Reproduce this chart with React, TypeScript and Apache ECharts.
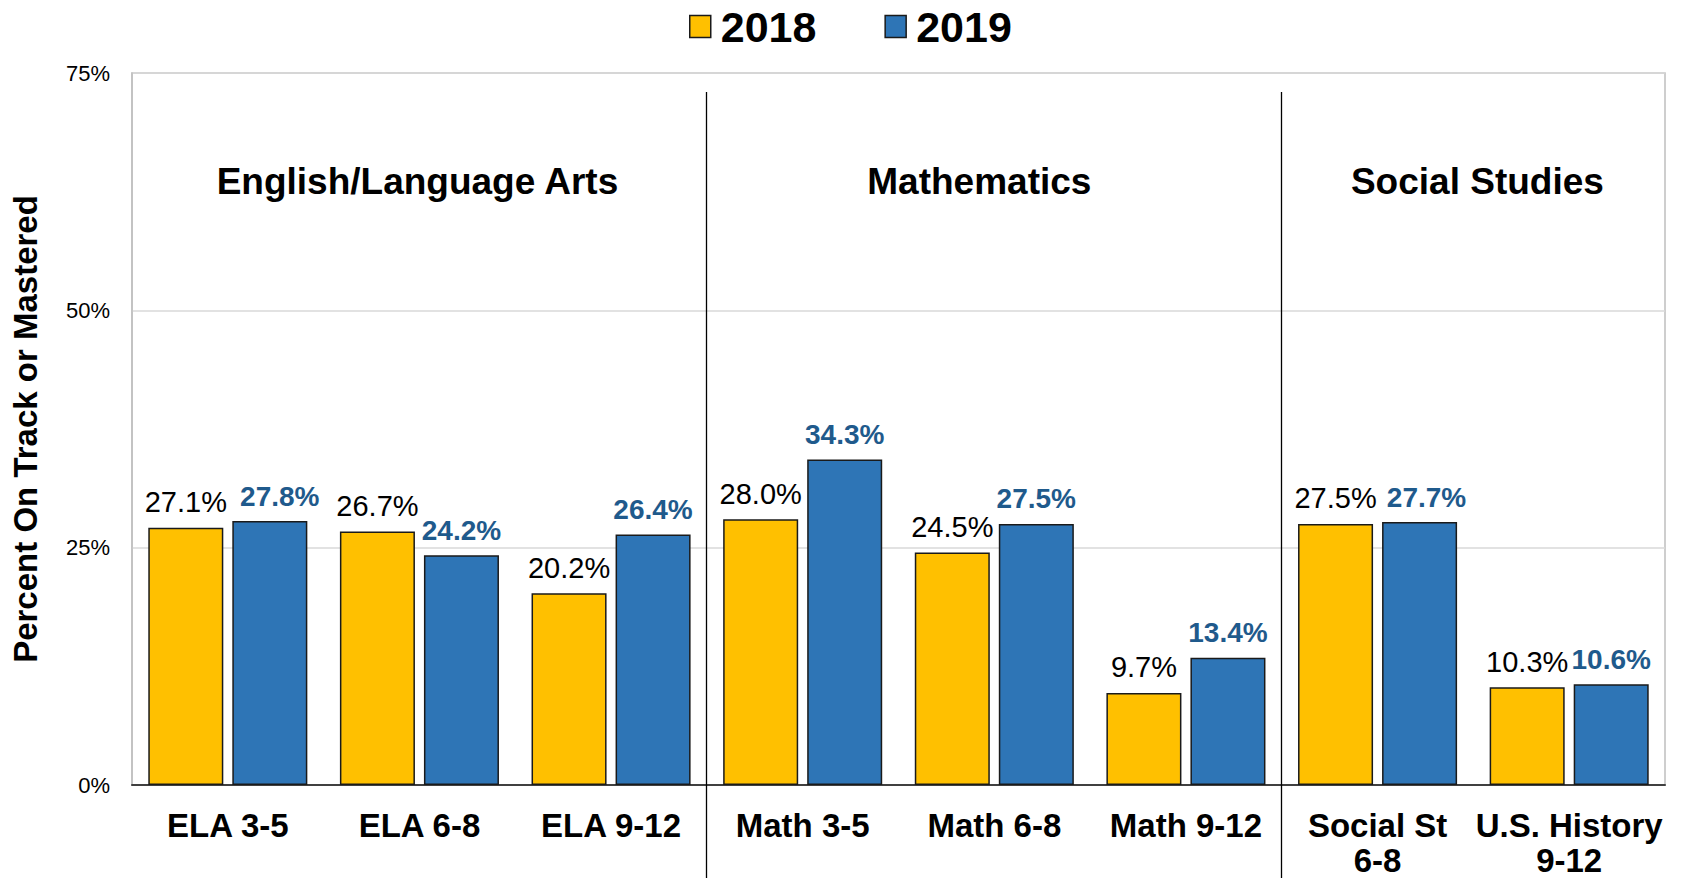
import React, { useEffect, useRef } from "react";
import * as echarts from "echarts";

const categories = [
  "ELA 3-5",
  "ELA 6-8",
  "ELA 9-12",
  "Math 3-5",
  "Math 6-8",
  "Math 9-12",
  "Social St\n6-8",
  "U.S. History\n9-12",
];
const values2018 = [27.1, 26.7, 20.2, 28.0, 24.5, 9.7, 27.5, 10.3];
const values2019 = [27.8, 24.2, 26.4, 34.3, 27.5, 13.4, 27.7, 10.6];
const seriesNames = ["2018", "2019"];
const yTicks = [0, 25, 50, 75];
const groupTitles = ["English/Language Arts", "Mathematics", "Social Studies"];
const groupStarts = [0, 3, 6];
const groupEnds = [3, 6, 8];

const FONT = '"Liberation Sans", Arial, Helvetica, sans-serif';
const W = 1682;
const H = 878;
const GRID = { left: 132, right: 17, top: 73, bottom: 93 };
// horizontal nudges of the 2019 value labels (px), where the reference moves them aside
const labelShift2019 = [10, 0, 0, 0, 0, 0, 7, 0];

export default function App() {
  const ref = useRef<HTMLDivElement>(null);

  useEffect(() => {
    if (!ref.current) return;
    const chart = echarts.init(ref.current, null, { renderer: "svg" });
    const plotW = W - GRID.left - GRID.right;
    const band = plotW / categories.length;
    const titleOffsets = [-2, -15, 4];

    const graphic: any[] = [];
    groupStarts.slice(1).forEach((s) => {
      const x = Math.round(GRID.left + s * band) - 0.5;
      graphic.push({
        type: "line",
        shape: { x1: x, y1: 92, x2: x, y2: H },
        style: { stroke: "#000", lineWidth: 1.3 },
        z: 10,
      });
    });
    groupTitles.forEach((t, i) => {
      const cx = GRID.left + ((groupStarts[i] + groupEnds[i]) / 2) * band + titleOffsets[i];
      graphic.push({
        type: "text",
        x: cx,
        y: 181,
        style: {
          text: t,
          font: `bold 37px ${FONT}`,
          fill: "#000",
          align: "center",
          verticalAlign: "middle",
        },
        z: 10,
      });
    });

    const data2019 = values2019.map((v, i) => ({
      value: v,
      label: { offset: [labelShift2019[i], 0] },
    }));

    chart.setOption({
      animation: false,
      textStyle: { fontFamily: FONT },
      legend: {
        top: 0,
        left: 684,
        icon: "rect",
        itemWidth: 21,
        itemHeight: 22,
        itemGap: 68,
        data: seriesNames,
        itemStyle: { borderColor: "#1a1a1a", borderWidth: 1.5 },
        textStyle: {
          fontSize: 43,
          fontWeight: "bold",
          color: "#000",
          fontFamily: FONT,
          padding: [0, 0, 0, 5],
        },
      },
      grid: {
        left: GRID.left,
        right: GRID.right,
        top: GRID.top,
        bottom: GRID.bottom,
        show: true,
        borderColor: "#BFBFBF",
        borderWidth: 1.5,
        containLabel: false,
        outerBoundsMode: "none",
      },
      xAxis: {
        type: "category",
        data: categories,
        axisTick: { show: false },
        axisLine: { show: true, lineStyle: { color: "#404040", width: 2 } },
        axisLabel: {
          interval: 0,
          fontSize: 33,
          fontWeight: "bold",
          color: "#000",
          fontFamily: FONT,
          lineHeight: 35,
          margin: 23,
        },
      },
      yAxis: {
        type: "value",
        min: 0,
        max: 75,
        interval: 25,
        name: "Percent On Track or Mastered",
        nameLocation: "middle",
        nameRotate: 90,
        nameGap: 90,
        nameTextStyle: { fontSize: 33, fontWeight: "bold", color: "#000", fontFamily: FONT },
        axisLine: { show: true, lineStyle: { color: "#BFBFBF", width: 1.5 } },
        axisTick: { show: false },
        axisLabel: {
          fontSize: 22,
          color: "#000",
          margin: 22,
          fontFamily: FONT,
          formatter: (v: number) => (yTicks.includes(v) ? `${v}%` : ""),
        },
        splitLine: { show: true, lineStyle: { color: "#D9D9D9", width: 1.5 } },
      },
      series: [
        {
          name: seriesNames[0],
          type: "bar",
          data: values2018,
          barGap: "12%",
          barCategoryGap: "17%",
          itemStyle: { color: "#FFC000", borderColor: "#1a1a1a", borderWidth: 1.5 },
          label: {
            show: true,
            position: "top",
            distance: 11,
            formatter: (p: any) => `${p.value.toFixed(1)}%`,
            fontSize: 29,
            color: "#000",
            fontFamily: FONT,
          },
        },
        {
          name: seriesNames[1],
          type: "bar",
          data: data2019,
          barGap: "12%",
          barCategoryGap: "17%",
          itemStyle: { color: "#2E75B6", borderColor: "#1a1a1a", borderWidth: 1.5 },
          label: {
            show: true,
            position: "top",
            distance: 11,
            formatter: (p: any) => `${Number(p.value).toFixed(1)}%`,
            fontSize: 28,
            fontWeight: "bold",
            color: "#1F5A8C",
            fontFamily: FONT,
          },
        },
      ],
      graphic,
    });
    return () => chart.dispose();
  }, []);

  return (
    <div
      ref={ref}
      style={{ position: "absolute", left: 0, top: 0, width: W, height: H, background: "#fff" }}
    />
  );
}
